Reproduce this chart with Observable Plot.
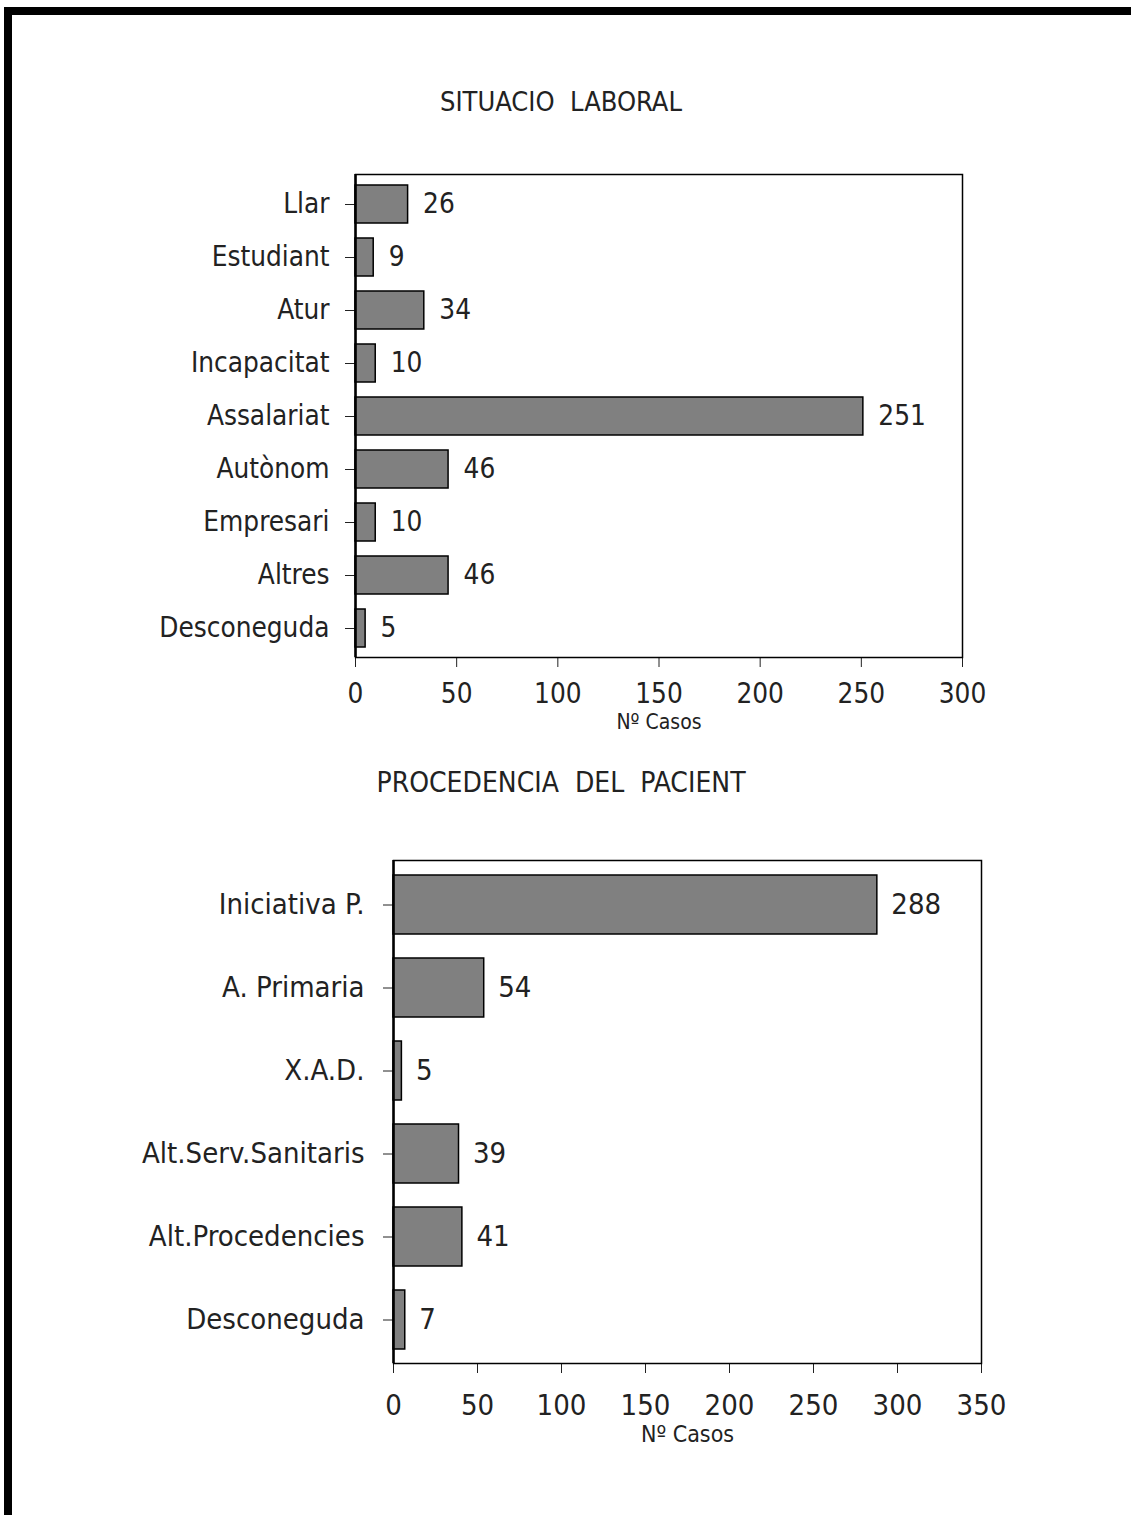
<!DOCTYPE html>
<html><head><meta charset="utf-8">
<script src="https://cdn.jsdelivr.net/npm/d3@7"></script>
<script src="https://cdn.jsdelivr.net/npm/@observablehq/plot@0.6"></script>
<style>
html,body{margin:0;padding:0;background:#fff}
body{width:1131px;height:1515px;position:relative;overflow:hidden;font-family:'DejaVu Sans Condensed','DejaVu Sans',sans-serif;font-stretch:condensed;color:#222}
#bt{position:absolute;left:4px;top:7px;width:1127px;height:8px;background:#000}
#bl{position:absolute;left:4px;top:7px;width:8px;height:1508px;background:#000}
.title{position:absolute;left:0;width:1122px;text-align:center;font-size:27px;line-height:27px;white-space:pre}
.chart{position:absolute;left:0}
</style></head>
<body>
<div id="bt"></div><div id="bl"></div>
<div class="title" id="t1" style="top:88px">SITUACIO  LABORAL</div>
<div class="chart" id="c1" style="top:150px"></div>
<div class="title" id="t2" style="top:769px;font-size:28px">PROCEDENCIA  DEL  PACIENT</div>
<div class="chart" id="c2" style="top:830px"></div>
<script>
const laboralCats = ["Llar","Estudiant","Atur","Incapacitat","Assalariat","Autònom","Empresari","Altres","Desconeguda"];
const laboralVals = [26, 9, 34, 10, 251, 46, 10, 46, 5];
const laboralTicks = [0, 50, 100, 150, 200, 250, 300];

const procCats = ["Iniciativa P.","A. Primaria","X.A.D.","Alt.Serv.Sanitaris","Alt.Procedencies","Desconeguda"];
const procVals = [288, 54, 5, 39, 41, 7];
const procTicks = [0, 50, 100, 150, 200, 250, 300, 350];

const xLabel = "Nº Casos";
const FONT = "'DejaVu Sans Condensed','DejaVu Sans',sans-serif";

function chart({cats, vals, ticks, max, width, height, ml, mr, mt, mb, fs, lfs, tp, ytp, labelDy, valDx}) {
  const data = cats.map((c, i) => ({cat: c, val: vals[i]}));
  return Plot.plot({
    width, height, marginLeft: ml, marginRight: mr, marginTop: mt, marginBottom: mb,
    style: {fontFamily: FONT, fontSize: fs + "px", background: "transparent", color: "#222", fontStretch: "condensed"},
    x: {domain: [0, max], ticks, tickSize: 10, tickPadding: tp, label: null, tickFormat: d => String(d)},
    y: {domain: cats, paddingInner: 0.29, paddingOuter: 0.145, tickSize: 10, tickPadding: ytp, label: null},
    marks: [
      Plot.barX(data, {x: "val", y: "cat", fill: "#808080", stroke: "#000", strokeWidth: 1.5}),
      Plot.text(data, {x: "val", y: "cat", text: d => String(d.val), dx: valDx, textAnchor: "start", fill: "#222", fontSize: fs}),
      Plot.frame({stroke: "#000", strokeWidth: 1.5}),
      Plot.ruleX([0], {stroke: "#000", strokeWidth: 2.5}),
      Plot.text([xLabel], {frameAnchor: "bottom", lineAnchor: "middle", dy: labelDy, fontSize: lfs, fill: "#222"})
    ]
  });
}

document.getElementById("c1").appendChild(chart({
  cats: laboralCats, vals: laboralVals, ticks: laboralTicks, max: 300,
  width: 1131, height: 597, ml: 355, mr: 169, mt: 24, mb: 90, fs: 27.7, lfs: 21, tp: 16, ytp: 16, labelDy: 65, valDx: 15
}));
document.getElementById("c2").appendChild(chart({
  cats: procCats, vals: procVals, ticks: procTicks, max: 350,
  width: 1131, height: 633, ml: 393, mr: 150, mt: 30, mb: 100, fs: 29, lfs: 23, tp: 21, ytp: 19, labelDy: 71, valDx: 14
}));
</script>
</body></html>
